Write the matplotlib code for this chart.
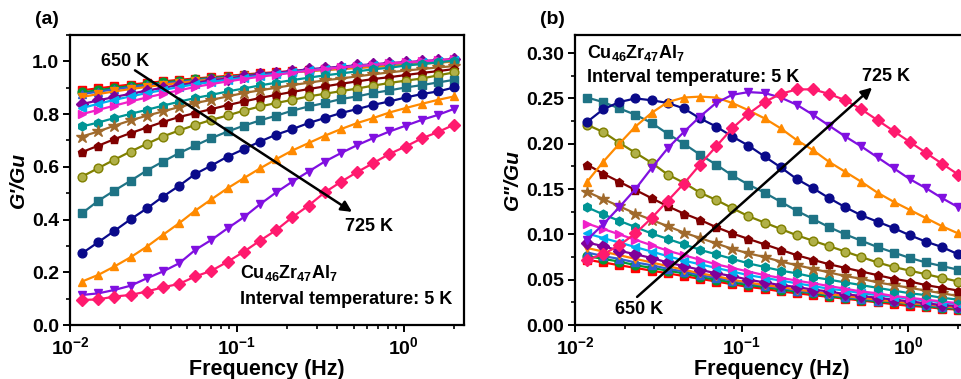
import numpy as np
import matplotlib
matplotlib.use("Agg")
import matplotlib.pyplot as plt
from matplotlib.ticker import LogLocator, MultipleLocator, FormatStrFormatter, NullFormatter

plt.rcParams["font.family"] = ["Liberation Sans", "DejaVu Sans"]
plt.rcParams["mathtext.default"] = "regular"

# measuring frequencies (Hz), same for every temperature
freq = [0.01181, 0.01476, 0.01845, 0.02306, 0.02882, 0.03603, 0.04504, 0.0563,
        0.07037, 0.08796, 0.10995, 0.13744, 0.1718, 0.21475, 0.26844, 0.33554,
        0.41943, 0.52429, 0.65536, 0.8192, 1.024, 1.28, 1.6, 2.0]

temps = [650, 655, 660, 665, 670, 675, 680, 685, 690, 695, 700, 705, 710, 715, 720, 725]

colors = ["#FF0000", "#009933", "#2F5FD0", "#FF8000", "#800099", "#00B0F0",
          "#F020C8", "#009494", "#A06A2C", "#800000", "#808000", "#1E7385",
          "#0A0A8A", "#FF8A00", "#8010E0", "#FF1A6E"]
markers = ["s", "o", "^", "v", "D", "<", ">", "h", "*", "p", "o", "s", "o", "^", "v", "D"]

# normalized storage modulus G'/Gu
g1_650 = [0.890, 0.898, 0.905, 0.912, 0.918, 0.924, 0.930, 0.935, 0.940, 0.945, 0.950, 0.955,
          0.959, 0.963, 0.967, 0.971, 0.975, 0.979, 0.983, 0.987, 0.991, 0.995, 0.999, 1.003]
g1_655 = [0.882, 0.891, 0.899, 0.906, 0.913, 0.920, 0.926, 0.932, 0.937, 0.942, 0.947, 0.952,
          0.957, 0.961, 0.965, 0.969, 0.973, 0.977, 0.981, 0.985, 0.989, 0.993, 0.997, 1.001]
g1_660 = [0.876, 0.885, 0.894, 0.902, 0.909, 0.916, 0.922, 0.928, 0.934, 0.940, 0.945, 0.950,
          0.955, 0.959, 0.964, 0.968, 0.972, 0.976, 0.980, 0.984, 0.988, 0.992, 0.996, 1.000]
g1_665 = [0.865, 0.876, 0.886, 0.895, 0.903, 0.911, 0.918, 0.925, 0.931, 0.937, 0.943, 0.948,
          0.953, 0.958, 0.963, 0.967, 0.971, 0.975, 0.979, 0.983, 0.987, 0.991, 0.995, 0.999]
g1_670 = [0.838, 0.852, 0.865, 0.877, 0.889, 0.900, 0.910, 0.919, 0.928, 0.935, 0.943, 0.951,
          0.957, 0.963, 0.970, 0.975, 0.980, 0.985, 0.989, 0.994, 0.997, 1.001, 1.005, 1.009]
g1_675 = [0.823, 0.839, 0.854, 0.867, 0.880, 0.891, 0.903, 0.913, 0.922, 0.930, 0.938, 0.946,
          0.953, 0.959, 0.966, 0.972, 0.977, 0.982, 0.987, 0.991, 0.995, 0.999, 1.003, 1.006]
g1_680 = [0.800, 0.816, 0.832, 0.848, 0.863, 0.877, 0.890, 0.903, 0.914, 0.924, 0.933, 0.942,
          0.949, 0.957, 0.965, 0.971, 0.977, 0.982, 0.987, 0.992, 0.996, 1.000, 1.004, 1.008]
g1_685 = [0.753, 0.768, 0.785, 0.801, 0.816, 0.832, 0.847, 0.861, 0.873, 0.886, 0.897, 0.909,
          0.919, 0.929, 0.938, 0.947, 0.954, 0.962, 0.970, 0.976, 0.984, 0.990, 0.996, 1.003]
g1_690 = [0.715, 0.734, 0.756, 0.776, 0.794, 0.810, 0.827, 0.842, 0.854, 0.867, 0.880, 0.890,
          0.900, 0.910, 0.919, 0.928, 0.935, 0.943, 0.951, 0.958, 0.965, 0.971, 0.977, 0.982]
g1_695 = [0.656, 0.680, 0.705, 0.728, 0.749, 0.770, 0.789, 0.804, 0.819, 0.834, 0.848, 0.861,
          0.873, 0.884, 0.895, 0.905, 0.915, 0.924, 0.933, 0.940, 0.948, 0.956, 0.963, 0.971]
g1_700 = [0.563, 0.595, 0.627, 0.658, 0.687, 0.715, 0.738, 0.759, 0.778, 0.795, 0.813, 0.829,
          0.842, 0.854, 0.867, 0.877, 0.887, 0.897, 0.908, 0.918, 0.927, 0.935, 0.947, 0.958]
g1_705 = [0.424, 0.471, 0.510, 0.547, 0.586, 0.620, 0.652, 0.681, 0.709, 0.734, 0.756, 0.776,
          0.794, 0.813, 0.829, 0.842, 0.857, 0.867, 0.880, 0.890, 0.901, 0.910, 0.920, 0.930]
g1_710 = [0.272, 0.314, 0.357, 0.401, 0.442, 0.487, 0.528, 0.573, 0.605, 0.639, 0.667, 0.696,
          0.722, 0.743, 0.766, 0.785, 0.804, 0.819, 0.835, 0.848, 0.863, 0.876, 0.886, 0.901]
g1_715 = [0.165, 0.190, 0.222, 0.257, 0.297, 0.342, 0.386, 0.434, 0.477, 0.519, 0.557, 0.594,
          0.629, 0.662, 0.690, 0.718, 0.743, 0.766, 0.785, 0.806, 0.823, 0.839, 0.854, 0.867]
g1_720 = [0.114, 0.120, 0.133, 0.149, 0.177, 0.203, 0.234, 0.285, 0.323, 0.367, 0.409, 0.458,
          0.503, 0.544, 0.582, 0.620, 0.652, 0.682, 0.709, 0.734, 0.756, 0.778, 0.797, 0.820]
g1_725 = [0.095, 0.097, 0.108, 0.114, 0.127, 0.143, 0.156, 0.184, 0.206, 0.240, 0.278, 0.320,
          0.360, 0.409, 0.453, 0.503, 0.543, 0.580, 0.614, 0.649, 0.677, 0.708, 0.732, 0.760]

# normalized loss modulus G''/Gu
g2_650 = [0.072, 0.069, 0.066, 0.063, 0.060, 0.057, 0.054, 0.051, 0.048, 0.045, 0.042, 0.040,
          0.037, 0.035, 0.033, 0.031, 0.029, 0.027, 0.025, 0.023, 0.021, 0.020, 0.018, 0.017]
g2_655 = [0.076, 0.073, 0.070, 0.066, 0.063, 0.060, 0.057, 0.053, 0.050, 0.047, 0.044, 0.042,
          0.039, 0.037, 0.035, 0.032, 0.030, 0.028, 0.026, 0.025, 0.023, 0.021, 0.019, 0.018]
g2_660 = [0.080, 0.076, 0.073, 0.069, 0.066, 0.062, 0.059, 0.055, 0.052, 0.049, 0.046, 0.043,
          0.041, 0.038, 0.036, 0.034, 0.031, 0.029, 0.027, 0.026, 0.024, 0.022, 0.020, 0.019]
g2_665 = [0.085, 0.081, 0.077, 0.073, 0.069, 0.065, 0.061, 0.057, 0.054, 0.050, 0.047, 0.044,
          0.042, 0.039, 0.037, 0.034, 0.032, 0.030, 0.028, 0.026, 0.024, 0.023, 0.021, 0.019]
g2_670 = [0.091, 0.087, 0.082, 0.078, 0.074, 0.069, 0.065, 0.061, 0.057, 0.054, 0.050, 0.047,
          0.044, 0.042, 0.039, 0.037, 0.034, 0.032, 0.030, 0.028, 0.026, 0.024, 0.022, 0.021]
g2_675 = [0.101, 0.096, 0.091, 0.086, 0.081, 0.076, 0.071, 0.067, 0.063, 0.059, 0.055, 0.052,
          0.049, 0.046, 0.043, 0.040, 0.038, 0.035, 0.033, 0.031, 0.029, 0.027, 0.025, 0.023]
g2_680 = [0.112, 0.106, 0.100, 0.094, 0.088, 0.082, 0.077, 0.072, 0.067, 0.063, 0.059, 0.055,
          0.052, 0.049, 0.046, 0.043, 0.040, 0.037, 0.035, 0.032, 0.030, 0.028, 0.026, 0.024]
g2_685 = [0.130, 0.122, 0.115, 0.108, 0.101, 0.095, 0.089, 0.083, 0.078, 0.073, 0.068, 0.064,
          0.060, 0.057, 0.053, 0.050, 0.047, 0.044, 0.041, 0.038, 0.035, 0.033, 0.030, 0.028]
g2_690 = [0.147, 0.139, 0.131, 0.123, 0.116, 0.109, 0.102, 0.096, 0.090, 0.084, 0.079, 0.075,
          0.070, 0.066, 0.062, 0.058, 0.054, 0.051, 0.047, 0.044, 0.041, 0.038, 0.035, 0.032]
g2_695 = [0.177, 0.167, 0.158, 0.149, 0.140, 0.131, 0.123, 0.116, 0.108, 0.101, 0.095, 0.089,
          0.083, 0.077, 0.072, 0.067, 0.063, 0.059, 0.055, 0.051, 0.048, 0.044, 0.041, 0.038]
g2_700 = [0.221, 0.213, 0.201, 0.190, 0.179, 0.166, 0.157, 0.146, 0.138, 0.129, 0.120, 0.113,
          0.106, 0.099, 0.093, 0.087, 0.081, 0.075, 0.069, 0.064, 0.060, 0.056, 0.052, 0.048]
g2_705 = [0.251, 0.246, 0.239, 0.232, 0.223, 0.211, 0.200, 0.188, 0.177, 0.165, 0.155, 0.146,
          0.136, 0.126, 0.117, 0.108, 0.100, 0.093, 0.086, 0.080, 0.074, 0.069, 0.065, 0.061]
g2_710 = [0.224, 0.238, 0.246, 0.250, 0.248, 0.245, 0.239, 0.228, 0.219, 0.208, 0.198, 0.186,
          0.174, 0.161, 0.151, 0.140, 0.130, 0.121, 0.114, 0.107, 0.099, 0.092, 0.086, 0.078]
g2_715 = [0.158, 0.180, 0.200, 0.219, 0.234, 0.246, 0.251, 0.252, 0.251, 0.245, 0.237, 0.228,
          0.217, 0.204, 0.193, 0.180, 0.169, 0.158, 0.146, 0.136, 0.127, 0.118, 0.109, 0.101]
g2_720 = [0.094, 0.111, 0.130, 0.150, 0.173, 0.195, 0.213, 0.230, 0.245, 0.254, 0.257, 0.256,
          0.251, 0.243, 0.232, 0.220, 0.208, 0.197, 0.185, 0.173, 0.161, 0.151, 0.140, 0.130]
g2_725 = [0.072, 0.078, 0.088, 0.101, 0.118, 0.137, 0.156, 0.177, 0.197, 0.217, 0.233, 0.246,
          0.255, 0.260, 0.260, 0.255, 0.248, 0.238, 0.226, 0.214, 0.202, 0.190, 0.178, 0.166]

storage = [g1_650, g1_655, g1_660, g1_665, g1_670, g1_675, g1_680, g1_685,
           g1_690, g1_695, g1_700, g1_705, g1_710, g1_715, g1_720, g1_725]
loss = [g2_650, g2_655, g2_660, g2_665, g2_670, g2_675, g2_680, g2_685,
        g2_690, g2_695, g2_700, g2_705, g2_710, g2_715, g2_720, g2_725]

W, H = 962, 379
fig = plt.figure(figsize=(W / 100, H / 100), dpi=100)
ax1 = fig.add_axes([70 / W, 1 - 325 / H, 394 / W, 290 / H])
ax2 = fig.add_axes([575 / W, 1 - 325 / H, 393 / W, 290 / H])


def draw_curves(ax, series):
    # low temperatures first so the hot curves sit on top
    for T, y, c, m in zip(temps, series, colors, markers):
        face = c
        ms = 6.3
        if T == 700:
            face = "#B0B048"
        if m == "*":
            ms = 9
        elif m in ("s", "D"):
            ms = 5.8
        ax.plot(freq, y, color=c, lw=1.6, marker=m, ms=ms,
                markerfacecolor=face, markeredgecolor=c, markeredgewidth=1.0)


def style_axis(ax, ylim, ymajor, yminor, yfmt, ylabel):
    ax.set_xscale("log")
    ax.set_xlim(0.01, 2.29)
    ax.set_ylim(*ylim)
    ax.xaxis.set_major_locator(LogLocator(base=10))
    ax.xaxis.set_minor_locator(LogLocator(base=10, subs=np.arange(2, 10)))
    ax.xaxis.set_minor_formatter(NullFormatter())
    ax.yaxis.set_major_locator(MultipleLocator(ymajor))
    ax.yaxis.set_minor_locator(MultipleLocator(yminor))
    ax.yaxis.set_major_formatter(FormatStrFormatter(yfmt))
    ax.tick_params(which="major", direction="out", length=5, width=1.4,
                   labelsize=14, pad=3)
    ax.tick_params(which="minor", direction="out", length=3, width=1.2)
    for sp in ax.spines.values():
        sp.set_linewidth(1.6)
    ax.set_xlabel("Frequency (Hz)", fontsize=15.5, fontweight="bold", labelpad=1)
    ax.set_ylabel(ylabel, fontsize=15, fontweight="bold", fontstyle="italic", labelpad=3)


draw_curves(ax1, storage)
style_axis(ax1, (0, 1.1), 0.2, 0.1, "%.1f", "G'/Gu")
draw_curves(ax2, loss)
style_axis(ax2, (0, 0.32), 0.05, 0.025, "%.2f", 'G"/Gu')

for ax in (ax1, ax2):
    for lab in ax.get_xticklabels() + ax.get_yticklabels():
        lab.set_fontweight("bold")

arrow = dict(arrowstyle="-|>", lw=1.8, color="black", mutation_scale=16,
             shrinkA=0, shrinkB=0)

# panel (a) annotations
ax1.annotate("", xy=(0.489, 0.429), xytext=(0.0245, 0.966), arrowprops=arrow)
ax1.text(0.0213, 1.0, "650 K", fontsize=13, fontweight="bold", ha="center", va="center")
ax1.text(0.616, 0.372, "725 K", fontsize=13, fontweight="bold", ha="center", va="center")
ax1.text(0.1043, 0.197, "Cu$_{46}$Zr$_{47}$Al$_{7}$", fontsize=13, fontweight="bold",
         ha="left", va="center")
ax1.text(0.1043, 0.095, "Interval temperature: 5 K", fontsize=13, fontweight="bold",
         ha="left", va="center")
fig.text(35 / W, 1 - 20 / H, "(a)", fontsize=14, fontweight="bold", ha="left", va="center")

# panel (b) annotations
ax2.annotate("", xy=(0.608, 0.262), xytext=(0.0236, 0.031), arrowprops=arrow)
ax2.text(0.0242, 0.0166, "650 K", fontsize=13, fontweight="bold", ha="center", va="center")
ax2.text(0.738, 0.274, "725 K", fontsize=13, fontweight="bold", ha="center", va="center")
ax2.text(0.0118, 0.300, "Cu$_{46}$Zr$_{47}$Al$_{7}$", fontsize=13, fontweight="bold",
         ha="left", va="center")
ax2.text(0.0118, 0.273, "Interval temperature: 5 K", fontsize=13, fontweight="bold",
         ha="left", va="center")
fig.text(540 / W, 1 - 20 / H, "(b)", fontsize=14, fontweight="bold", ha="left", va="center")

fig.savefig("out.png", dpi=100)
